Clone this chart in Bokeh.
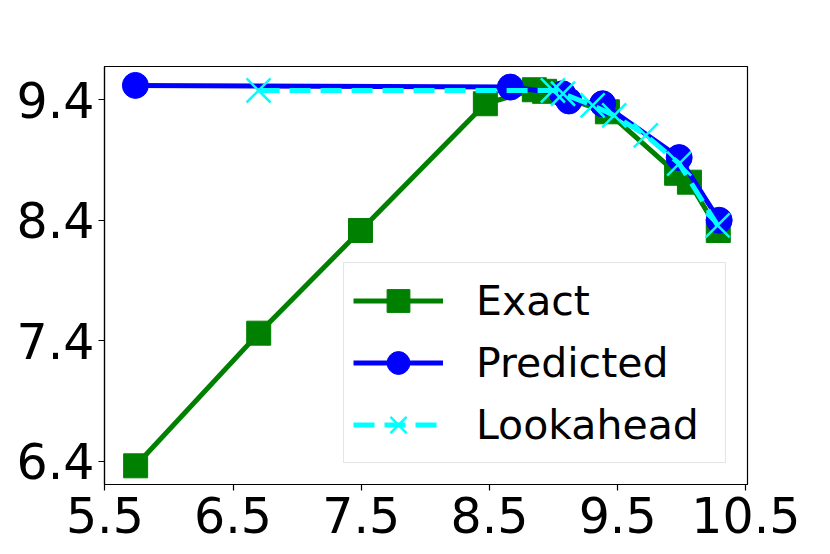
from bokeh.plotting import figure
from bokeh.models import FixedTicker, Range1d
from bokeh.embed import file_html
from bokeh.resources import INLINE

# ---- data ----
exact_x = [5.74, 6.70, 7.494, 8.468, 8.85, 8.93, 9.42, 9.96, 10.06, 10.285]
exact_y = [6.362, 7.463, 8.315, 9.367, 9.483, 9.47, 9.30, 8.79, 8.716, 8.315]

pred_x = [5.738, 8.663, 9.07, 9.12, 9.383, 9.98, 10.292]
pred_y = [9.519, 9.505, 9.45, 9.39, 9.367, 8.92, 8.40]

look_x = [6.699, 8.995, 9.074, 9.305, 9.473, 9.72, 9.98, 10.28]
look_y = [9.477, 9.477, 9.45, 9.353, 9.27, 9.104, 8.87, 8.357]

x_ticks = [5.5, 6.5, 7.5, 8.5, 9.5, 10.5]
y_ticks = [6.4, 7.4, 8.4, 9.4]

FONT = "DejaVu Sans"

p = figure(width=822, height=546, output_backend="svg", toolbar_location=None,
           x_range=Range1d(5.497, 10.513), y_range=Range1d(6.207, 9.676),
           min_border_left=104, min_border_right=75, min_border_top=66, min_border_bottom=62)

p.xgrid.visible = False
p.ygrid.visible = False
p.outline_line_color = "black"
p.outline_line_width = 1.2
p.background_fill_color = "white"
p.border_fill_color = "white"

for ax, ticks in ((p.xaxis[0], x_ticks), (p.yaxis[0], y_ticks)):
    ax.ticker = FixedTicker(ticks=ticks)
    ax.minor_tick_line_color = None
    ax.major_tick_in = 0
    ax.major_tick_out = 6
    ax.major_tick_line_color = "black"
    ax.major_tick_line_width = 1.2
    ax.axis_line_color = "black"
    ax.axis_line_width = 1.2
    ax.major_label_text_font = FONT
    ax.major_label_text_font_size = "49px"
    ax.major_label_text_color = "black"
p.xaxis[0].major_label_standoff = 6
p.yaxis[0].major_label_standoff = 4

LW = 5
p.line(exact_x, exact_y, color="#008000", line_width=LW, legend_label="Exact")
p.scatter(exact_x, exact_y, marker="square", size=24, color="#008000", legend_label="Exact")

p.line(pred_x, pred_y, color="#0000ff", line_width=LW, legend_label="Predicted")
p.scatter(pred_x, pred_y, marker="circle", size=26, color="#0000ff", legend_label="Predicted")

p.line(look_x, look_y, color="#00ffff", line_width=LW, line_dash="21 10", legend_label="Lookahead")
p.scatter(look_x, look_y, marker="x", size=34, line_color="#00ffff", line_width=2.5,
          legend_label="Lookahead")

lg = p.legend[0]
lg.location = "bottom_right"
lg.margin = 21
lg.padding = 9
lg.spacing = 5
lg.glyph_width = 90
lg.glyph_height = 57
lg.label_standoff = 33
lg.label_width = 240
lg.label_text_font = FONT
lg.label_text_font_size = "41px"
lg.label_text_color = "black"
lg.border_line_color = "#cccccc"
lg.border_line_width = 1.5
lg.background_fill_color = "white"
lg.background_fill_alpha = 0.8

open("out.html", "w").write(file_html(p, INLINE))
